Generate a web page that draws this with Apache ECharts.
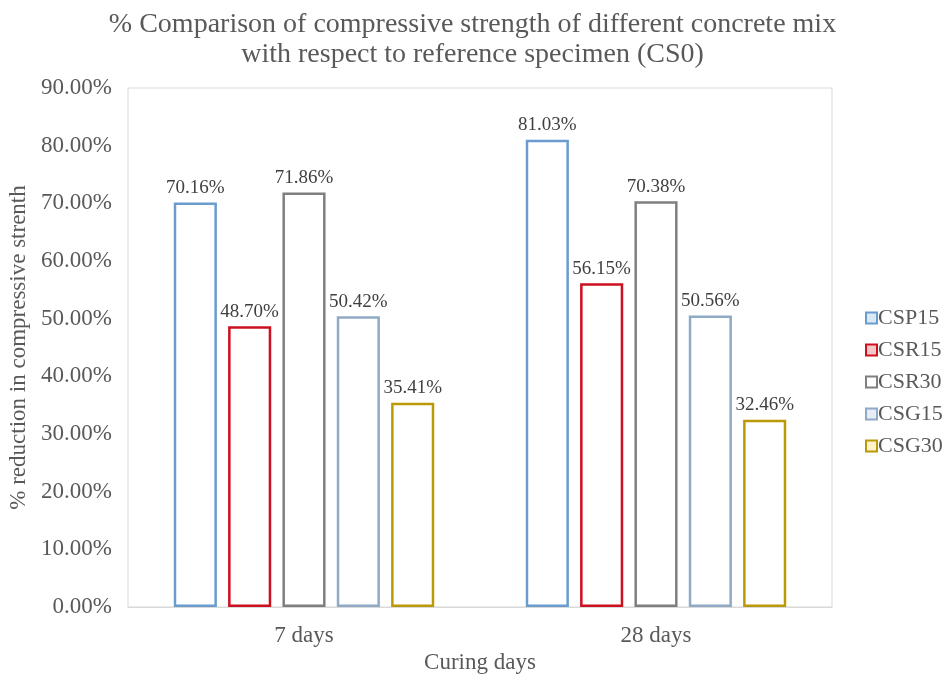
<!DOCTYPE html>
<html><head><meta charset="utf-8">
<script src="https://cdn.jsdelivr.net/npm/echarts@6/dist/echarts.min.js"></script>
<style>html,body{margin:0;padding:0;background:#fff}#c{width:945px;height:677px}</style>
</head><body><div id="c"></div>
<script>
const categories = ['7 days', '28 days'];
const seriesNames = ['CSP15', 'CSR15', 'CSR30', 'CSG15', 'CSG30'];
const CSP15 = [70.16, 81.03];
const CSR15 = [48.70, 56.15];
const CSR30 = [71.86, 70.38];
const CSG15 = [50.42, 50.56];
const CSG30 = [35.41, 32.46];
const yTicks = {min: 0, max: 90, interval: 10};

const values = [CSP15, CSR15, CSR30, CSG15, CSG30];
const colors = ['#6a9ccd', '#cc1020', '#7f7f7f', '#8eaac6', '#bb9a08'];
const fills = ['#dbe9f5', '#f4c7c9', '#ffffff', '#e6edf4', '#fff2cc'];
const font = 'Liberation Serif';
const txt = '#595959';

const chart = echarts.init(document.getElementById('c'));
chart.setOption({
  animation: false,
  backgroundColor: '#fff',
  textStyle: {fontFamily: font},
  title: {
    text: '% Comparison of compressive strength of different concrete mix\nwith respect to reference specimen (CS0)',
    left: 'center', top: 5,
    textStyle: {fontFamily: font, fontSize: 28, fontWeight: 'normal', color: txt, lineHeight: 30}
  },
  legend: {
    orient: 'vertical', left: 860, top: 302,
    itemWidth: 11, itemHeight: 11, itemGap: 10,
    textStyle: {fontFamily: font, fontSize: 22, color: txt, padding: [0,0,0,-4]},
    data: seriesNames.map((n, i) => ({name: n, icon: 'rect', itemStyle: {color: fills[i], borderColor: colors[i], borderWidth: 2}}))
  },
  grid: {left: 128, right: 113, top: 88, bottom: 70, show: true, borderColor: '#d9d9d9', borderWidth: 1, outerBoundsMode: 'none', containLabel: false},
  xAxis: {
    type: 'category', data: categories,
    name: 'Curing days', nameLocation: 'middle', nameGap: 44,
    nameTextStyle: {fontFamily: font, fontSize: 23, color: txt},
    axisLine: {lineStyle: {color: '#d9d9d9'}},
    axisTick: {show: false},
    axisLabel: {fontFamily: font, fontSize: 23, color: txt, margin: 17}
  },
  yAxis: {
    type: 'value', min: yTicks.min, max: yTicks.max, interval: yTicks.interval,
    name: '% reduction in compressive strenth', nameLocation: 'middle', nameGap: 94,
    nameTextStyle: {fontFamily: font, fontSize: 23, color: txt},
    axisLine: {show: false}, axisTick: {show: false}, splitLine: {show: false},
    axisLabel: {fontFamily: font, fontSize: 23, color: txt, margin: 16, formatter: v => v.toFixed(2) + '%'}
  },
  series: seriesNames.map((n, i) => ({
    name: n, type: 'bar', data: values[i],
    barGap: '26%', barCategoryGap: '26%',
    itemStyle: {color: '#ffffff', borderColor: colors[i], borderWidth: 2.5},
    label: {show: true, position: 'top', distance: 5, fontFamily: font, fontSize: 19, color: '#404040', formatter: p => p.value.toFixed(2) + '%'}
  }))
});
</script></body></html>
